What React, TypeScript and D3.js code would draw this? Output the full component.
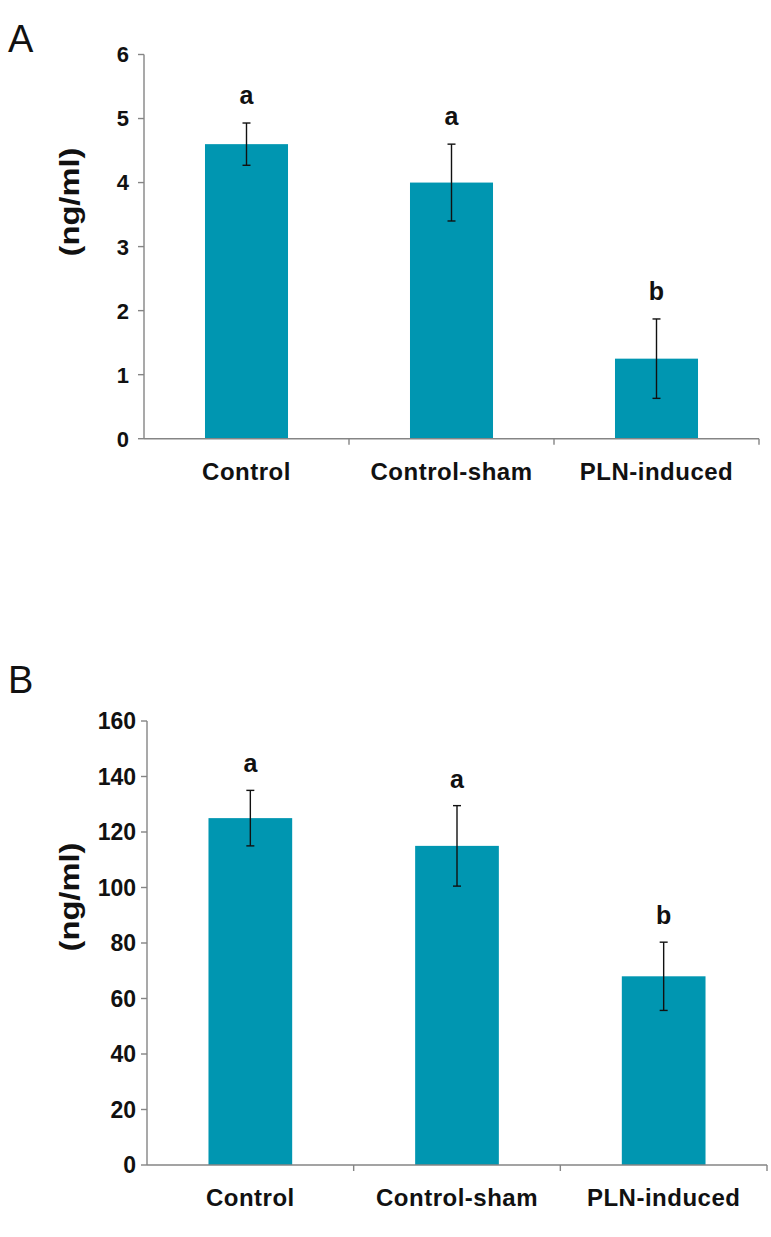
import React from "react";
import * as d3 from "d3";

const categories = ["Control", "Control-sham", "PLN-induced"];

const panelAValues = [4.6, 4.0, 1.25];
const panelAErrors = [0.33, 0.6, 0.62];
const panelALetters = ["a", "a", "b"];
const panelATicks = [0, 1, 2, 3, 4, 5, 6];

const panelBValues = [125, 115, 68];
const panelBErrors = [10, 14.5, 12.3];
const panelBLetters = ["a", "a", "b"];
const panelBTicks = [0, 20, 40, 60, 80, 100, 120, 140, 160];

const BAR_COLOR = "#0096B1";
const AXIS_COLOR = "#858585";
const FONT = "'Liberation Sans', Arial, Helvetica, sans-serif";

type PanelProps = {
  label: string;
  labelY: number;
  values: number[];
  errors: number[];
  letters: string[];
  ticks: number[];
  x0: number;
  x1: number;
  yTop: number;
  yBottom: number;
  tickFont: number;
  tickGap: number;
  letterOffset: number;
  yLabelCenter: number;
};

function Panel(p: PanelProps) {
  const maxT = p.ticks[p.ticks.length - 1];
  const y = d3.scaleLinear().domain([0, maxT]).range([p.yBottom, p.yTop]);
  const x = d3
    .scaleBand<string>()
    .domain(categories)
    .range([p.x0, p.x1])
    .paddingInner(0.595)
    .paddingOuter(0.2975);
  const step = (p.x1 - p.x0) / categories.length;
  const boundaries = d3.range(1, categories.length + 1).map((i) => p.x0 + i * step);
  const capW = 4;
  return (
    <g>
      <text x={8} y={p.labelY} fontFamily={FONT} fontSize={38} fill="#111">
        {p.label}
      </text>
      {p.values.map((v, i) => (
        <rect
          key={"bar" + i}
          x={x(categories[i])}
          y={y(v)}
          width={x.bandwidth()}
          height={y(0) - y(v)}
          fill={BAR_COLOR}
        />
      ))}
      {p.values.map((v, i) => {
        const cx = (x(categories[i]) as number) + x.bandwidth() / 2;
        const hi = y(v + p.errors[i]);
        const lo = y(v - p.errors[i]);
        return (
          <g key={"err" + i} stroke="#111" strokeWidth={1.4}>
            <line x1={cx} x2={cx} y1={hi} y2={lo} />
            <line x1={cx - capW} x2={cx + capW} y1={hi} y2={hi} />
            <line x1={cx - capW} x2={cx + capW} y1={lo} y2={lo} />
          </g>
        );
      })}
      {p.values.map((v, i) => {
        const cx = (x(categories[i]) as number) + x.bandwidth() / 2;
        return (
          <text
            key={"let" + i}
            x={cx}
            y={y(v + p.errors[i]) - p.letterOffset}
            textAnchor="middle"
            fontFamily={FONT}
            fontWeight="bold"
            fontSize={25}
            fill="#111"
          >
            {p.letters[i]}
          </text>
        );
      })}
      <line x1={p.x0} x2={p.x0} y1={p.yTop} y2={p.yBottom} stroke={AXIS_COLOR} strokeWidth={1.4} />
      {p.ticks.map((t) => (
        <g key={"yt" + t}>
          <line x1={p.x0 - 6} x2={p.x0} y1={y(t)} y2={y(t)} stroke={AXIS_COLOR} strokeWidth={1.4} />
          <text
            x={p.x0 - p.tickGap}
            y={y(t)}
            dy="0.36em"
            textAnchor="end"
            fontFamily={FONT}
            fontWeight="bold"
            fontSize={p.tickFont}
            fill="#111"
          >
            {t}
          </text>
        </g>
      ))}
      <line x1={p.x0} x2={p.x1} y1={p.yBottom} y2={p.yBottom} stroke={AXIS_COLOR} strokeWidth={1.4} />
      {boundaries.map((bx, i) => (
        <line key={"xt" + i} x1={bx} x2={bx} y1={p.yBottom} y2={p.yBottom + 6} stroke={AXIS_COLOR} strokeWidth={1.4} />
      ))}
      {categories.map((c) => (
        <text
          key={"xl" + c}
          x={(x(c) as number) + x.bandwidth() / 2}
          y={p.yBottom + 41}
          textAnchor="middle"
          fontFamily={FONT}
          fontWeight="bold"
          fontSize={24}
          letterSpacing={0.5}
          fill="#111"
        >
          {c}
        </text>
      ))}
      <text
        transform={`translate(79,${p.yLabelCenter}) rotate(-90)`}
        textAnchor="middle"
        fontFamily={FONT}
        fontWeight="bold"
        fontSize={27}
        textLength={109}
        lengthAdjust="spacingAndGlyphs"
        fill="#111"
      >
        (ng/ml)
      </text>
    </g>
  );
}

export default function App() {
  return (
    <svg
      width={771}
      height={1237}
      viewBox="0 0 771 1237"
      style={{ position: "absolute", left: 0, top: 0, background: "#fff" }}
    >
      <rect width={771} height={1237} fill="#fff" />
      <Panel
        label="A"
        labelY={52}
        values={panelAValues}
        errors={panelAErrors}
        letters={panelALetters}
        ticks={panelATicks}
        x0={144}
        x1={759}
        yTop={54.5}
        yBottom={438.7}
        tickFont={22}
        tickGap={15}
        letterOffset={19}
        yLabelCenter={202}
      />
      <Panel
        label="B"
        labelY={693}
        values={panelBValues}
        errors={panelBErrors}
        letters={panelBLetters}
        ticks={panelBTicks}
        x0={147}
        x1={767}
        yTop={721}
        yBottom={1165}
        tickFont={23}
        tickGap={11}
        letterOffset={18}
        yLabelCenter={897}
      />
    </svg>
  );
}
